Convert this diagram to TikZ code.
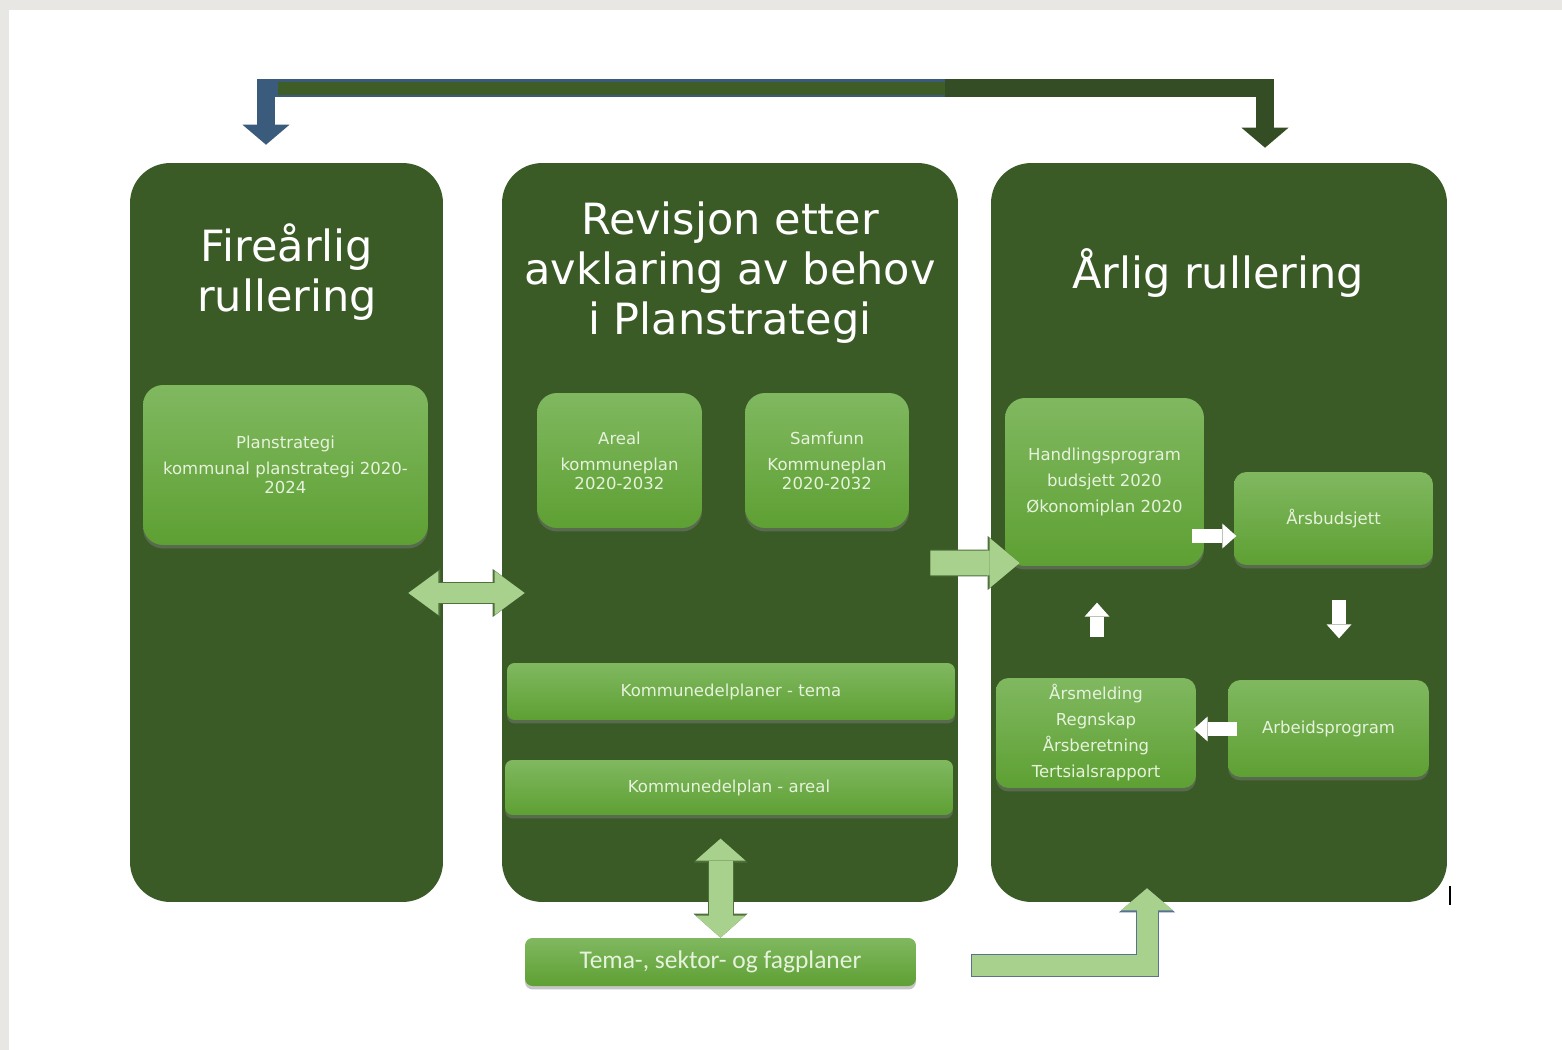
\documentclass[tikz,border=0pt]{standalone}
\usepackage{fontspec}
\setmainfont{DejaVu Sans}
\newfontfamily\calfont{Carlito}
\usepackage{tikz}
\usepackage{xcolor}
\usetikzlibrary{
    arrows.meta,
    calc,
    shadows,
    positioning
}
\definecolor{pagegray}{HTML}{E8E7E4}
\definecolor{panelgreen}{HTML}{3A5A26}
\definecolor{boxtop}{HTML}{80B860}
\definecolor{boxbottom}{HTML}{5EA033}
\definecolor{boxtext}{HTML}{E6F2DC}
\definecolor{arrowgreen}{HTML}{A9D18E}
\definecolor{arrowline}{HTML}{50703C}
\definecolor{arrowslate}{HTML}{5A7290}
\definecolor{topblue}{HTML}{3A5B7C}
\definecolor{topgreen}{HTML}{3F5E27}
\definecolor{topdark}{HTML}{344D24}
\tikzset{
    toptip/.tip={Triangle[width=0.94cm,length=0.4cm,line width=0pt]},
    dbltip/.tip={Triangle[width=0.88cm,length=0.6cm,line width=0pt]},
    dbltipout/.tip={Triangle[width=0.96cm,length=0.64cm,line width=0pt]},
    vtip/.tip={Triangle[width=1.0cm,length=0.44cm,line width=0pt]},
    vtipout/.tip={Triangle[width=1.08cm,length=0.48cm,line width=0pt]},
    bigtip/.tip={Triangle[width=1.0cm,length=0.6cm,line width=0pt]},
    bigtipout/.tip={Triangle[width=1.08cm,length=0.64cm,line width=0pt]},
    benttip/.tip={Triangle[width=1.04cm,length=0.44cm,line width=0pt]},
    benttipout/.tip={Triangle[width=1.12cm,length=0.48cm,line width=0pt]},
    wtip/.tip={Triangle[width=0.5cm,length=0.28cm,line width=0pt]}
}

\begin{document}
\begin{tikzpicture}[x=0.02cm, y=-0.02cm,
    panel/.style={fill=panelgreen, rounded corners=0.8cm, inner sep=0pt},
    title/.style={text=white, align=center, font=\fontsize{24.5}{28.45}\selectfont},
    planbox/.style={top color=boxtop, bottom color=boxbottom, rounded corners=#1,
        inner sep=0pt, text=boxtext, align=center, font=\fontsize{9.4}{10.8}\selectfont,
        drop shadow={shadow xshift=0cm, shadow yshift=-0.07cm, opacity=0.45}},
    planbox/.default=0.4cm,
    lightarrow/.style={draw=arrowgreen, line width=0.4cm},
    whitearrow/.style={draw=white, line width=0.28cm, arrows={-wtip}}
]
    \useasboundingbox (0,0) rectangle (1562,1050);
    \fill[pagegray] (0,0) rectangle (1562,1050);
    \fill[white] (9,10) rectangle (1562,1050);

    \node[panel, minimum width=6.26cm, minimum height=14.78cm] (fire) at (286.5,532.5) {};
    \node[panel, minimum width=9.12cm, minimum height=14.78cm] (mid) at (730,532.5) {};
    \node[panel, minimum width=9.12cm, minimum height=14.78cm] (aar) at (1219,532.5) {};

    \node[title] (fireT) at (287,272) {Fireårlig\\rullering};
    \node[title] (midT) at (730,273) {Revisjon etter\\avklaring av behov\\i Planstrategi};
    \node[title] (aarT) at (1218,273) {Årlig rullering};

    \coordinate (topL) at ($(fire.north)+(-20.5,-18)$);
    \coordinate (topR) at ($(aar.north)+(46,-15)$);
    \coordinate (topMid) at (945,88.5);
    \draw[line width=0.36cm, draw=topblue, arrows={toptip-}] (topL) |- (topMid);
    \draw[line width=0.26cm, draw=topgreen] ($(topL |- topMid)+(12,0)$) -- (topMid);
    \draw[line width=0.36cm, draw=topdark, arrows={-toptip}] (topMid) -| (topR);

    \node[planbox, minimum width=5.7cm, minimum height=3.2cm] (plan) at (285.5,465)
        {Planstrategi\\[4pt]kommunal planstrategi 2020-\\2024};
    \node[planbox, minimum width=3.3cm, minimum height=2.7cm] (areal) at (619.5,460.5)
        {Areal\\[4pt]kommuneplan\\2020-2032};
    \node[planbox, minimum width=3.28cm, minimum height=2.7cm] (samf) at (827,460.5)
        {Samfunn\\[4pt]Kommuneplan\\2020-2032};
    \node[planbox=0.15cm, minimum width=8.96cm, minimum height=1.14cm] (tema) at (731,691.5)
        {Kommunedelplaner - tema};
    \node[planbox=0.15cm, minimum width=8.96cm, minimum height=1.1cm] (delareal) at (729,787.5)
        {Kommunedelplan - areal};
    \node[planbox=0.15cm, minimum width=7.82cm, minimum height=0.96cm,
        font=\calfont\fontsize{14.5}{17}\selectfont] (fag) at (720.5,962)
        {Tema-, sektor- og fagplaner};
    \node[planbox, minimum width=3.98cm, minimum height=3.36cm] (hand) at (1104.5,482)
        {Handlingsprogram\\[4pt]budsjett 2020\\[4pt]Økonomiplan 2020};
    \node[planbox=0.25cm, minimum width=3.98cm, minimum height=1.86cm] (budsj) at (1333.5,518.5)
        {Årsbudsjett};
    \node[planbox=0.25cm, minimum width=4cm, minimum height=2.2cm] (meld) at (1096,733)
        {Årsmelding\\[4pt]Regnskap\\[4pt]Årsberetning\\[4pt]Tertsialsrapport};
    \node[planbox=0.25cm, minimum width=4.02cm, minimum height=1.94cm] (arbeid) at (1328.5,728.5)
        {Arbeidsprogram};

    \draw[lightarrow, arrows={dbltip-dbltip},
        preaction={draw=arrowline, line width=0.44cm, arrows={dbltipout-dbltipout}}]
        ($(fire.east)+(-35,60.5)$) -- ($(mid.west)+(23,60.5)$);
    \draw[lightarrow, line width=0.5cm, arrows={-bigtip},
        preaction={draw=arrowline, line width=0.54cm, arrows={-bigtipout}}]
        ($(mid.east)+(-28,30.5)$) -- ($(hand.west)+(15,81)$);
    \draw[lightarrow, line width=0.48cm, arrows={vtip-vtip},
        preaction={draw=arrowline, line width=0.52cm, arrows={vtipout-vtipout}}]
        (fag.north) -- ++(0,-99);
    \coordinate (bentStart) at (972,965);
    \draw[lightarrow, line width=0.42cm, arrows={-benttip},
        preaction={draw=arrowslate, line width=0.46cm, shorten <=-0.02cm, arrows={-benttipout}}]
        (bentStart) -| ($(aar.south)+(-72,-14)$);

    \draw[whitearrow] ($(hand.east)+(-12,54)$) -- ++(44,0);
    \draw[whitearrow] ($(meld.north)+(1,-41)$) -- ++(0,-34);
    \draw[whitearrow] ($(budsj.south)+(5.5,35)$) -- ++(0,38);
    \draw[whitearrow] ($(arbeid.west)+(9,0.5)$) -- ++(-43,0);

    \draw[line width=0.03cm] (1450,886) -- (1450,905);
\end{tikzpicture}
\end{document}
